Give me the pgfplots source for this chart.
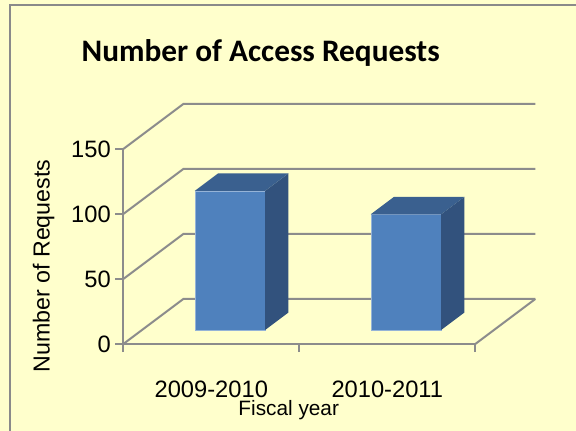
\documentclass[border=0pt]{standalone}
\usepackage{pgfplots}
\pgfplotsset{compat=1.18}
\usepackage{pgfplotstable}
\usepackage{fontspec}
\setmainfont{Liberation Sans}
\newfontfamily\titlefont{Carlito}
\definecolor{bg}{HTML}{FFFFCC}
\definecolor{gridc}{HTML}{8C8C8C}
\definecolor{frontc}{HTML}{4F81BD}
\definecolor{sidec}{HTML}{32527D}
\definecolor{topc}{HTML}{3A608F}
\definecolor{framec}{HTML}{8A8A8A}

\pgfplotstableread{
idx value
0 107
1 89
}\datatable

% 3-D geometry (data units): half bar width, depth vector, bar front/back depth
\def\hw{0.2}\def\dX{0.3409}\def\dY{34.62}\def\fd{0.311}\def\bd{0.70}
\newcommand\mkbar[3]{%
  \pgfmathsetmacro\tmp{#2-\hw+\fd*\dX}\expandafter\let\csname xl#1\endcsname\tmp
  \pgfmathsetmacro\tmp{#2+\hw+\fd*\dX}\expandafter\let\csname xr#1\endcsname\tmp
  \pgfmathsetmacro\tmp{#2-\hw+\bd*\dX}\expandafter\let\csname xlb#1\endcsname\tmp
  \pgfmathsetmacro\tmp{#2+\hw+\bd*\dX}\expandafter\let\csname xrb#1\endcsname\tmp
  \pgfmathsetmacro\tmp{\fd*\dY}\expandafter\let\csname yz#1\endcsname\tmp
  \pgfmathsetmacro\tmp{#3+\fd*\dY}\expandafter\let\csname yt#1\endcsname\tmp
  \pgfmathsetmacro\tmp{\bd*\dY}\expandafter\let\csname yzb#1\endcsname\tmp
  \pgfmathsetmacro\tmp{#3+\bd*\dY}\expandafter\let\csname ytb#1\endcsname\tmp
}
\pgfplotstablegetelem{0}{value}\of\datatable\let\vA\pgfplotsretval
\pgfplotstablegetelem{1}{value}\of\datatable\let\vB\pgfplotsretval
\mkbar{A}{0}{\vA}
\mkbar{B}{1}{\vB}

\begin{document}
\begin{tikzpicture}
\fill[bg, use as bounding box] (0,0) rectangle (576pt,431pt);
\draw[framec, line width=2.5pt] (10pt,-5pt) -- (10pt,426pt) -- (590pt,426pt);
\node[anchor=base west, inner sep=0pt, font=\titlefont\bfseries\fontsize{31.3}{36}\selectfont]
  at (81.5pt,369.3pt) {Number of Access Requests};
\begin{axis}[
  at={(123.3pt,87pt)}, anchor=south west,
  scale only axis, width=352pt, height=195pt,
  xmin=-0.5, xmax=1.5, ymin=0, ymax=150,
  clip=false,
  axis x line*=bottom, axis y line*=left,
  axis line style={-, gridc, line width=2pt},
  xtick={-0.5,0.5,1.5}, x tick label as interval,
  xticklabels={2009-2010,2010-2011},
  ytick={0,50,100,150},
  tick align=outside, major tick length=8pt,
  tick style={gridc, line width=2pt},
  ticklabel style={font=\fontsize{23.7}{28}\selectfont},
  xticklabel style={yshift=-25pt},
  yticklabel style={xshift=-1pt},
  /pgf/number format/assume math mode=true,
  xlabel={Fiscal year}, ylabel={Number of Requests},
  xlabel style={font=\fontsize{20.8}{24}\selectfont, at={(axis description cs:0.470,-0.341)}, anchor=center},
  ylabel style={font=\fontsize{23.2}{27}\selectfont, at={(axis description cs:-0.226,0.40)}, anchor=center, rotate=0},
]
\pgfplotsinvokeforeach{0,50,100,150}{
  \draw[gridc, line width=2pt] (axis cs:-0.5,#1) -- (axis cs:{-0.5+\dX},{#1+\dY}) -- (axis cs:{1.5+\dX},{#1+\dY});
}
\draw[gridc, line width=2pt] (axis cs:1.5,0) -- (axis cs:{1.5+\dX},{\dY});
% bar 1
\addplot[fill=frontc, draw=frontc!60!white, line width=0.4pt] coordinates {(\xlA,\yzA) (\xrA,\yzA) (\xrA,\ytA) (\xlA,\ytA)} -- cycle;
\addplot[fill=sidec, draw=none] coordinates {(\xrA,\yzA) (\xrbA,\yzbA) (\xrbA,\ytbA) (\xrA,\ytA)} -- cycle;
\addplot[fill=topc, draw=none] coordinates {(\xlA,\ytA) (\xrA,\ytA) (\xrbA,\ytbA) (\xlbA,\ytbA)} -- cycle;
% bar 2
\addplot[fill=frontc, draw=frontc!60!white, line width=0.4pt] coordinates {(\xlB,\yzB) (\xrB,\yzB) (\xrB,\ytB) (\xlB,\ytB)} -- cycle;
\addplot[fill=sidec, draw=none] coordinates {(\xrB,\yzB) (\xrbB,\yzbB) (\xrbB,\ytbB) (\xrB,\ytB)} -- cycle;
\addplot[fill=topc, draw=none] coordinates {(\xlB,\ytB) (\xrB,\ytB) (\xrbB,\ytbB) (\xlbB,\ytbB)} -- cycle;
\end{axis}
\end{tikzpicture}
\end{document}
